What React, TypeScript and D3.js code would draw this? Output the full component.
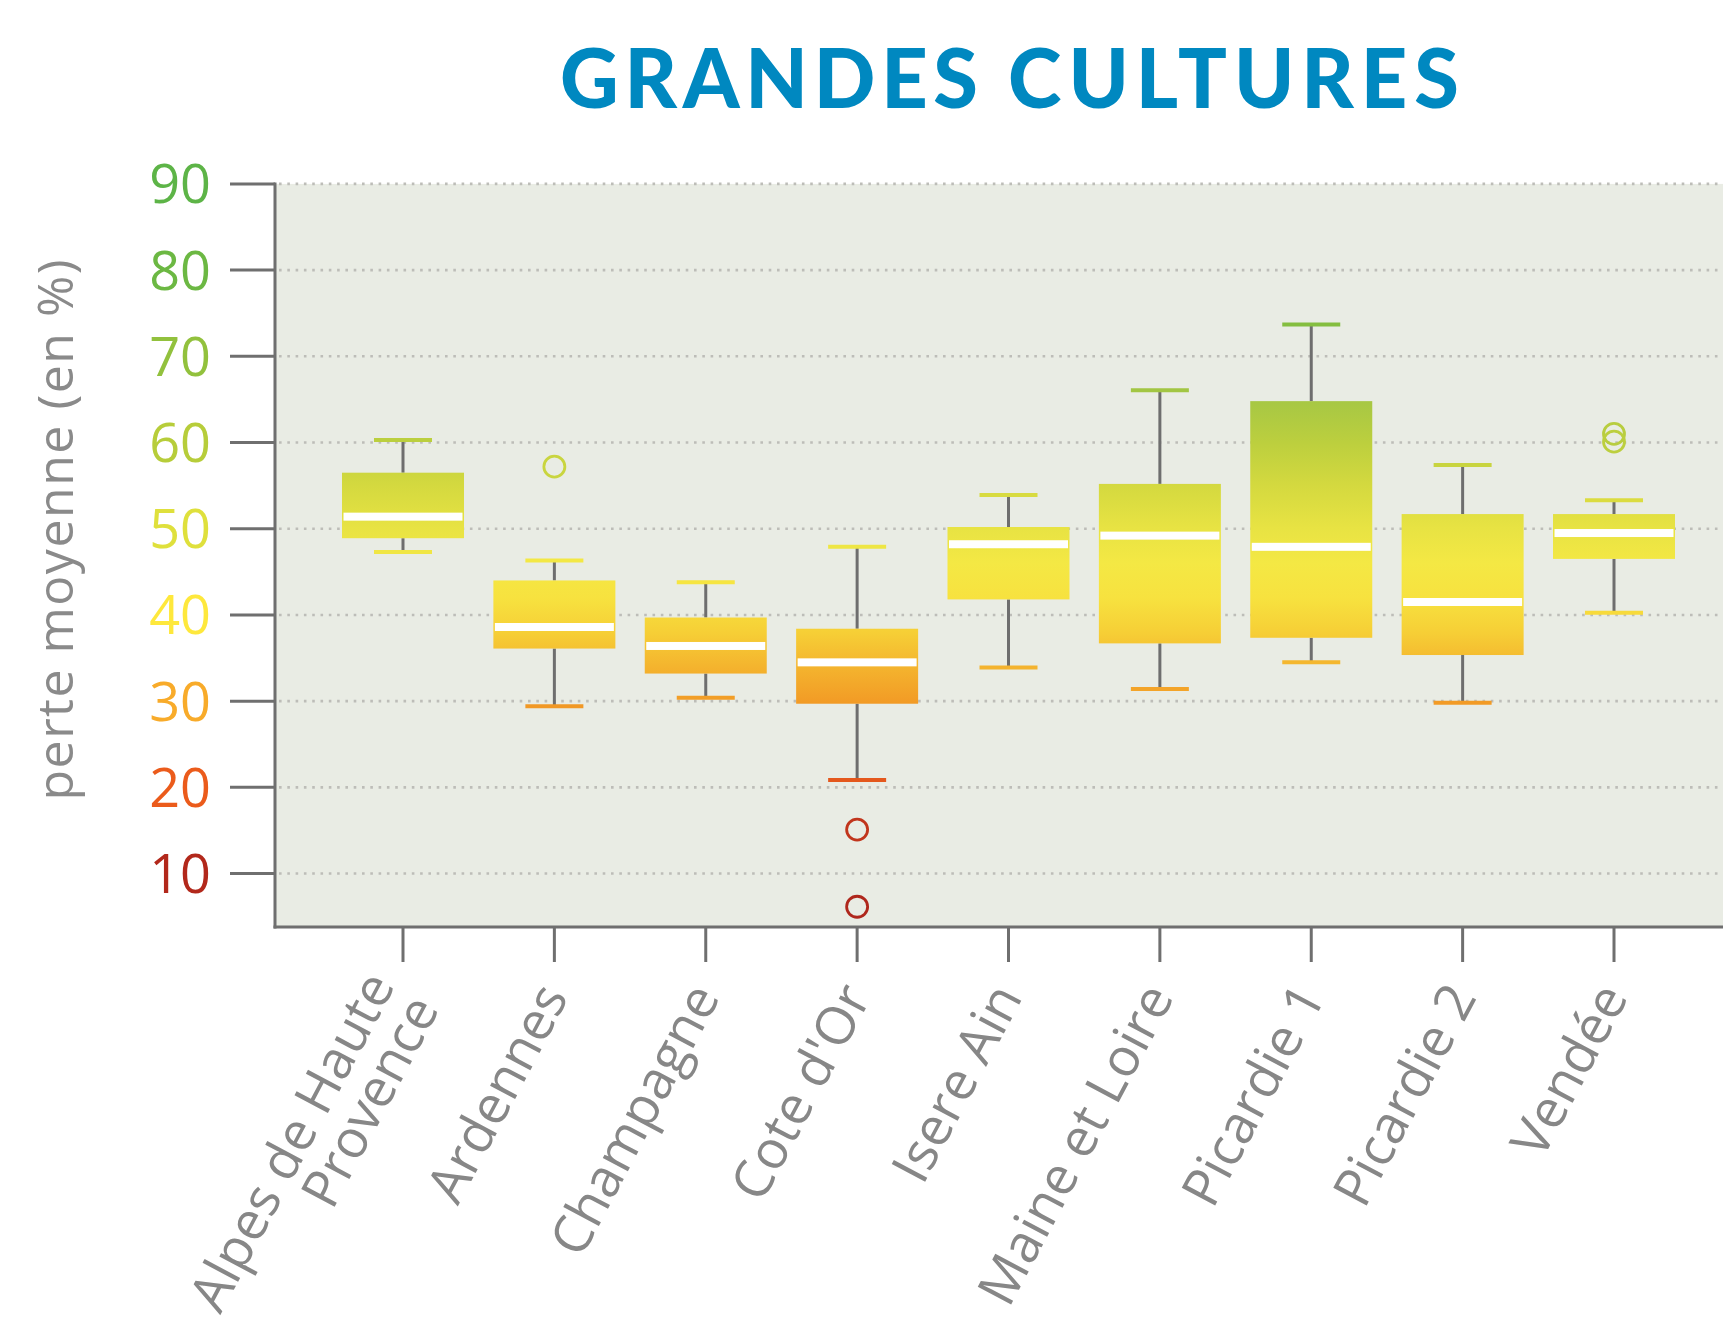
import React from 'react';
import * as d3 from 'd3';

const categories = [
  "Alpes de Haute\nProvence",
  "Ardennes",
  "Champagne",
  "Cote d'Or",
  "Isere Ain",
  "Maine et Loire",
  "Picardie 1",
  "Picardie 2",
  "Vendée",
];
const whiskerLow = [47.3, 29.4, 30.4, 20.85, 33.9, 31.4, 34.5, 29.8, 40.25];
const q1 = [48.9, 36.1, 33.2, 29.7, 41.8, 36.7, 37.35, 35.35, 46.5];
const median = [51.4, 38.6, 36.4, 34.5, 48.2, 49.2, 47.9, 41.5, 49.5];
const q3 = [56.5, 44.0, 39.7, 38.4, 50.2, 55.2, 64.8, 51.7, 51.7];
const whiskerHigh = [60.3, 46.3, 43.8, 47.9, 53.9, 66.05, 73.7, 57.4, 53.3];
const outliers: number[][] = [[], [57.2], [], [15.1, 6.15], [], [], [], [], [61.0, 60.1]];

const yTicks = [10, 20, 30, 40, 50, 60, 70, 80, 90];
const yTickColors = ["#b2281b", "#eb5b1b", "#f8ab2a", "#fee83c", "#dfe03c", "#b7cd3a", "#92c13d", "#6cb843", "#5db447"];

const colorStopValues = [0, 10, 15, 20, 25, 30, 34, 38, 42, 46, 50, 55, 60, 65, 70, 80, 90];
const colorStopColors = [
  "#a8241c", "#b3291c", "#c0341c", "#e2511c", "#ed7b21", "#f29c26", "#f4b42e", "#f6cf36",
  "#f7e23f", "#f4e844", "#e8e343", "#d4d93f", "#bccf3e", "#a6c744", "#93c23e", "#6bb844", "#5cb446",
];

const title = ["GRANDES", "CULTURES"];
const yAxisTitle = "perte moyenne (en %)";

export default function App() {
  const W = 1723;
  const H = 1330;
  const plotLeft = 275;
  const plotRight = 1723;

  const x = d3.scalePoint<string>().domain(categories).range([403, 1614]);
  const y = d3.scaleLinear().domain([3.8, 90]).range([927, 183.9]);
  const color = d3.scaleLinear<string>().domain(colorStopValues).range(colorStopColors);

  const boxW = 122;
  const capW = 58;
  const gTop = y(90);
  const gBot = y(0);

  const font = "'Open Sans', 'DejaVu Sans', sans-serif";

  return (
    <svg
      width={W}
      height={H}
      viewBox={`0 0 ${W} ${H}`}
      style={{ position: 'absolute', left: 0, top: 0, display: 'block', background: '#fff' }}
    >
      <defs>
        <linearGradient id="boxGrad" gradientUnits="userSpaceOnUse" x1={0} x2={0} y1={gTop} y2={gBot}>
          {colorStopValues
            .slice()
            .reverse()
            .map((v) => (
              <stop key={v} offset={(y(v) - gTop) / (gBot - gTop)} stopColor={color(v)} />
            ))}
        </linearGradient>
        <clipPath id="plotClip">
          <rect x={plotLeft} y={0} width={plotRight - plotLeft} height={H} />
        </clipPath>
      </defs>

      {/* Title */}
      <text
        x={560}
        y={108}
        fontFamily="Lato, 'Open Sans', sans-serif"
        fontWeight={900}
        fontSize={81}
        fill="#0088c0"
        textLength={418}
        lengthAdjust="spacing"
      >
        {title[0]}
      </text>
      <text
        x={1008}
        y={108}
        fontFamily="Lato, 'Open Sans', sans-serif"
        fontWeight={900}
        fontSize={81}
        fill="#0088c0"
        textLength={451}
        lengthAdjust="spacing"
      >
        {title[1]}
      </text>

      {/* plot background */}
      <rect x={plotLeft} y={y(90)} width={plotRight - plotLeft} height={y.range()[0] - y(90)} fill="#e9ece4" />

      {/* gridlines */}
      {yTicks.map((t) => (
        <line
          key={'g' + t}
          x1={plotLeft + 4}
          x2={plotRight}
          y1={y(t)}
          y2={y(t)}
          stroke="#bdbdb8"
          strokeWidth={2.6}
          strokeDasharray="2.6 5.7"
        />
      ))}

      <g clipPath="url(#plotClip)">
        {categories.map((c, i) => {
          const cx = x(c) as number;
          return (
            <g key={c}>
              <line x1={cx} x2={cx} y1={y(whiskerHigh[i])} y2={y(q3[i])} stroke="#6e6e6e" strokeWidth={3} />
              <line x1={cx} x2={cx} y1={y(q1[i])} y2={y(whiskerLow[i])} stroke="#6e6e6e" strokeWidth={3} />
              <rect
                x={cx - boxW / 2}
                y={y(q3[i])}
                width={boxW}
                height={y(q1[i]) - y(q3[i])}
                fill="url(#boxGrad)"
              />
              <rect x={cx - boxW / 2 + 1.5} y={y(median[i]) - 4} width={boxW - 3} height={8} fill="#ffffff" />
              <line
                x1={cx - capW / 2}
                x2={cx + capW / 2}
                y1={y(whiskerHigh[i])}
                y2={y(whiskerHigh[i])}
                stroke={color(whiskerHigh[i])}
                strokeWidth={4}
              />
              <line
                x1={cx - capW / 2}
                x2={cx + capW / 2}
                y1={y(whiskerLow[i])}
                y2={y(whiskerLow[i])}
                stroke={color(whiskerLow[i])}
                strokeWidth={4}
              />
              {outliers[i].map((o, k) => (
                <circle key={k} cx={cx} cy={y(o)} r={10.5} fill="none" stroke={color(o)} strokeWidth={2.8} />
              ))}
            </g>
          );
        })}
      </g>

      {/* Y axis */}
      <line x1={plotLeft} x2={plotLeft} y1={y(90) - 1.5} y2={y.range()[0] + 1.5} stroke="#6f6f6f" strokeWidth={3} />
      {yTicks.map((t, i) => (
        <g key={'t' + t}>
          <line x1={230} x2={plotLeft} y1={y(t)} y2={y(t)} stroke="#6f6f6f" strokeWidth={3} />
          <text
            x={211}
            y={y(t)}
            dy="0.36em"
            textAnchor="end"
            fontFamily={font}
            fontSize={54}
            fill={yTickColors[i]}
          >
            {t}
          </text>
        </g>
      ))}
      <text
        transform={`translate(73, 530) rotate(-90)`}
        textAnchor="middle"
        fontFamily={font}
        fontSize={50}
        fill="#8a8a8a"
        textLength={541}
        lengthAdjust="spacing"
      >
        {yAxisTitle}
      </text>

      {/* X axis */}
      <line x1={plotLeft - 1.5} x2={plotRight} y1={y.range()[0]} y2={y.range()[0]} stroke="#6f6f6f" strokeWidth={3} />
      {categories.map((c) => {
        const cx = x(c) as number;
        const lines = c.split('\n');
        const n = lines.length;
        return (
          <g key={'x' + c}>
            <line x1={cx} x2={cx} y1={y.range()[0]} y2={y.range()[0] + 35} stroke="#6f6f6f" strokeWidth={3} />
            <g transform={`translate(${cx - 2}, 988) rotate(-62)`}>
              {lines.map((ln, k) => (
                <text
                  key={k}
                  x={0}
                  y={(k - (n - 1) / 2) * 50}
                  dy="0.36em"
                  textAnchor="end"
                  fontFamily={font}
                  fontSize={53}
                  fill="#878787"
                >
                  {ln}
                </text>
              ))}
            </g>
          </g>
        );
      })}
    </svg>
  );
}
